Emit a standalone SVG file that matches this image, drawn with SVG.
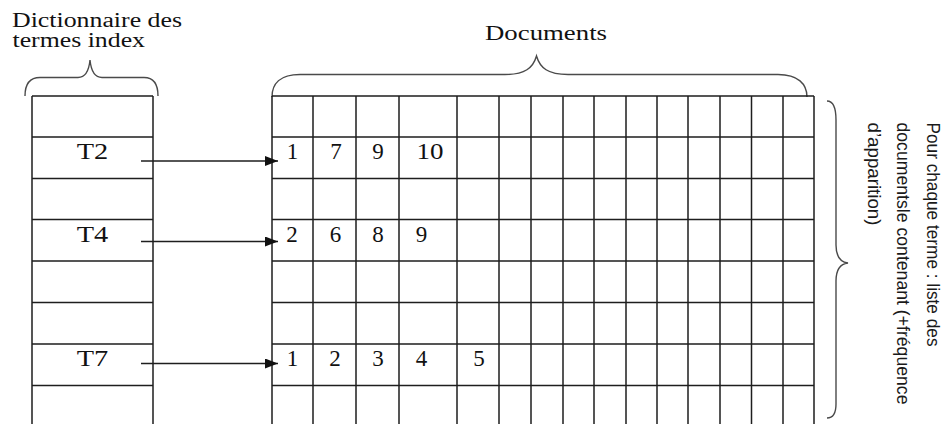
<svg xmlns="http://www.w3.org/2000/svg" width="946" height="424" viewBox="0 0 946 424">
<style>
.grid{fill:none;stroke:#1e1e1e;stroke-width:1.5}
.brace{fill:none;stroke:#4a4a4a;stroke-width:1.4}
.conn{fill:none;stroke:#1e1e1e;stroke-width:1.5}
text{font-family:"Liberation Serif","Times New Roman",serif;fill:#111}
.lab{font-size:20px}
.cell{font-size:23px;text-anchor:middle}
.side{font-family:"Liberation Sans Narrow","Liberation Sans",Arial,sans-serif;font-size:19px;fill:#1a1a1a}
</style>
<defs>
<marker id="arr" markerUnits="userSpaceOnUse" markerWidth="14" markerHeight="11" refX="13" refY="5" orient="auto">
<path d="M0,0 L13,5 L0,10 z" fill="#111"/>
</marker>
</defs>
<rect width="946" height="424" fill="#fff"/>

<g id="dictionary-title">
<text class="lab" x="12" y="26.5" textLength="170" lengthAdjust="spacingAndGlyphs">Dictionnaire des</text>
<text class="lab" x="12.5" y="46.5" textLength="132.5" lengthAdjust="spacingAndGlyphs">termes index</text>
<path class="brace" d="M25,96 C25,84 30,77.5 40,77.5 L78,77.5 C86,77.5 89,70 90,60 C91,70 94,77.5 102,77.5 L144,77.5 C153,77.5 158,84 158,96"/>
</g>

<g id="documents-title">
<text class="lab" x="485" y="39.5" font-size="20.5" textLength="122" lengthAdjust="spacingAndGlyphs">Documents</text>
<path class="brace" d="M272,97 C272,84 280,74.5 300,74.5 L505,74.5 C525,74.5 533,68 536.5,56 C540,68 548,74.5 568,74.5 L778,74.5 C798,74.5 807,84 807,97"/>
</g>

<g id="dictionary">
<path class="grid" d="M32,96 V424 M153,96 V424 M32,96 H153 M32,137 H153 M32,178.5 H153 M32,219.5 H153 M32,261 H153 M32,302.5 H153 M32,344 H153 M32,385.5 H153"/>
<text class="cell" x="92.5" y="159.3" textLength="31.5" lengthAdjust="spacingAndGlyphs">T2</text>
<text class="cell" x="92.5" y="242.3" textLength="31.5" lengthAdjust="spacingAndGlyphs">T4</text>
<text class="cell" x="92.5" y="366" textLength="31.5" lengthAdjust="spacingAndGlyphs">T7</text>
</g>

<g id="postings">
<path class="grid" d="M272,96 V424 M313,96 V424 M356,96 V424 M399,96 V424 M457,96 V424 M499,96 V424 M531,96 V424 M563,96 V424 M594,96 V424 M626,96 V424 M657,96 V424 M688,96 V424 M720,96 V424 M751.5,96 V424 M783,96 V424 M814,96 V424 M272,96 H814 M272,137 H814 M272,178.5 H814 M272,219.5 H814 M272,261 H814 M272,302.5 H814 M272,344 H814 M272,385.5 H814"/>
<g id="list-T2">
<text class="cell" x="292.5" y="158.5">1</text>
<text class="cell" x="336" y="158.5">7</text>
<text class="cell" x="378" y="158.5">9</text>
<text class="cell" x="430" y="158.5" textLength="27" lengthAdjust="spacingAndGlyphs">10</text>
</g>
<g id="list-T4">
<text class="cell" x="292" y="242">2</text>
<text class="cell" x="335.5" y="242">6</text>
<text class="cell" x="378" y="242">8</text>
<text class="cell" x="421.5" y="242">9</text>
</g>
<g id="list-T7">
<text class="cell" x="292.5" y="366">1</text>
<text class="cell" x="335" y="366">2</text>
<text class="cell" x="378" y="366">3</text>
<text class="cell" x="421.5" y="366">4</text>
<text class="cell" x="479" y="366">5</text>
</g>
</g>

<g id="side-note">
<path class="brace" d="M827,101 C833,101 836,108 836,120 L836,245 C836,256 840,262 848,263 C840,264 836,270 836,281 L836,404 C836,413 833,418 827,418"/>
<text class="side" transform="translate(926.5,122.5) rotate(90)" textLength="224" lengthAdjust="spacingAndGlyphs">Pour chaque terme : liste des</text>
<text class="side" transform="translate(897,122.5) rotate(90)" textLength="282" lengthAdjust="spacingAndGlyphs">documentsle contenant (+fréquence</text>
<text class="side" transform="translate(867.5,122.5) rotate(90)" textLength="103" lengthAdjust="spacingAndGlyphs">d’apparition)</text>
</g>

<g id="connectors">
<line class="conn" x1="141" y1="161" x2="278" y2="161" marker-end="url(#arr)"/>
<line class="conn" x1="141" y1="241.5" x2="278" y2="241.5" marker-end="url(#arr)"/>
<line class="conn" x1="141" y1="363.5" x2="278" y2="363.5" marker-end="url(#arr)"/>
</g>
</svg>
